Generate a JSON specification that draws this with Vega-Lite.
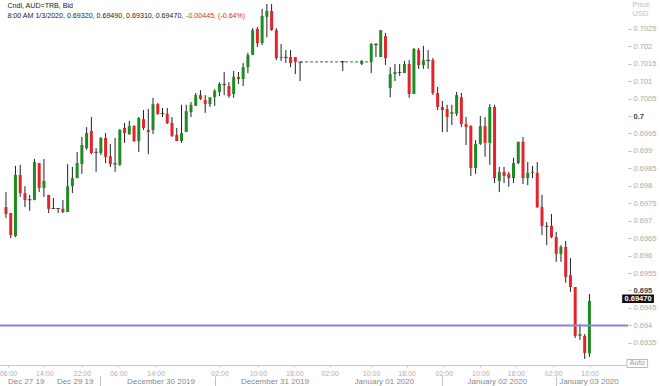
{
"$schema": "https://vega.github.io/schema/vega-lite/v6.json",
"width": 628, "height": 365,
"autosize": {"type": "none"},
"padding": {"left": 0, "top": 0, "right": 32, "bottom": 21},
"background": "white",
"config": {"view": {"stroke": null}, "font": "Liberation Sans"},
"resolve": {"axis": {"x": "independent", "y": "independent"}},
"datasets": {
"candles": [
{"j":0,"o":0.69739,"h":0.69782,"l":0.69708,"c":0.69719},
{"j":1,"o":0.69722,"h":0.69722,"l":0.69650,"c":0.69659},
{"j":2,"o":0.69656,"h":0.69857,"l":0.69653,"c":0.69831},
{"j":3,"o":0.69831,"h":0.69860,"l":0.69768,"c":0.69779},
{"j":4,"o":0.69779,"h":0.69799,"l":0.69739,"c":0.69759},
{"j":5,"o":0.69760,"h":0.69774,"l":0.69728,"c":0.69760},
{"j":6,"o":0.69759,"h":0.69877,"l":0.69759,"c":0.69868},
{"j":7,"o":0.69865,"h":0.69865,"l":0.69782,"c":0.69794},
{"j":8,"o":0.69794,"h":0.69877,"l":0.69768,"c":0.69814},
{"j":9,"o":0.69774,"h":0.69774,"l":0.69722,"c":0.69734},
{"j":10,"o":0.69735,"h":0.69765,"l":0.69734,"c":0.69735},
{"j":11,"o":0.69735,"h":0.69735,"l":0.69722,"c":0.69735},
{"j":12,"o":0.69734,"h":0.69759,"l":0.69722,"c":0.69725},
{"j":13,"o":0.69725,"h":0.69862,"l":0.69725,"c":0.69799},
{"j":14,"o":0.69799,"h":0.69854,"l":0.69779,"c":0.69822},
{"j":15,"o":0.69822,"h":0.69897,"l":0.69822,"c":0.69865},
{"j":16,"o":0.69862,"h":0.69940,"l":0.69834,"c":0.69917},
{"j":17,"o":0.69908,"h":0.69968,"l":0.69903,"c":0.69951},
{"j":18,"o":0.69957,"h":0.69997,"l":0.69891,"c":0.69894},
{"j":19,"o":0.69896,"h":0.69908,"l":0.69840,"c":0.69896},
{"j":20,"o":0.69894,"h":0.69940,"l":0.69888,"c":0.69937},
{"j":21,"o":0.69937,"h":0.69951,"l":0.69865,"c":0.69883},
{"j":22,"o":0.69885,"h":0.69920,"l":0.69854,"c":0.69862},
{"j":23,"o":0.69863,"h":0.69937,"l":0.69840,"c":0.69863},
{"j":24,"o":0.69860,"h":0.69963,"l":0.69857,"c":0.69960},
{"j":25,"o":0.69966,"h":0.69980,"l":0.69923,"c":0.69951},
{"j":26,"o":0.69948,"h":0.69986,"l":0.69946,"c":0.69971},
{"j":27,"o":0.69971,"h":0.69974,"l":0.69926,"c":0.69928},
{"j":28,"o":0.69928,"h":0.69997,"l":0.69897,"c":0.69994},
{"j":29,"o":0.69991,"h":0.70017,"l":0.69960,"c":0.69966},
{"j":30,"o":0.69960,"h":0.70020,"l":0.69891,"c":0.69954},
{"j":31,"o":0.69960,"h":0.70052,"l":0.69948,"c":0.70034},
{"j":32,"o":0.70034,"h":0.70037,"l":0.70003,"c":0.70006},
{"j":33,"o":0.70007,"h":0.70023,"l":0.69997,"c":0.70007},
{"j":34,"o":0.70006,"h":0.70023,"l":0.69977,"c":0.69980},
{"j":35,"o":0.69980,"h":0.69997,"l":0.69940,"c":0.69943},
{"j":36,"o":0.69946,"h":0.69966,"l":0.69928,"c":0.69928},
{"j":37,"o":0.69928,"h":0.70032,"l":0.69923,"c":0.69951},
{"j":38,"o":0.69954,"h":0.70032,"l":0.69954,"c":0.70014},
{"j":39,"o":0.70011,"h":0.70040,"l":0.69997,"c":0.70032},
{"j":40,"o":0.70029,"h":0.70066,"l":0.70029,"c":0.70060},
{"j":41,"o":0.70060,"h":0.70074,"l":0.70046,"c":0.70049},
{"j":42,"o":0.70046,"h":0.70060,"l":0.70009,"c":0.70034},
{"j":43,"o":0.70034,"h":0.70054,"l":0.70026,"c":0.70054},
{"j":44,"o":0.70054,"h":0.70077,"l":0.70029,"c":0.70072},
{"j":45,"o":0.70069,"h":0.70097,"l":0.70057,"c":0.70092},
{"j":46,"o":0.70090,"h":0.70126,"l":0.70060,"c":0.70090},
{"j":47,"o":0.70086,"h":0.70097,"l":0.70052,"c":0.70057},
{"j":48,"o":0.70063,"h":0.70129,"l":0.70052,"c":0.70112},
{"j":49,"o":0.70112,"h":0.70126,"l":0.70092,"c":0.70106},
{"j":50,"o":0.70106,"h":0.70152,"l":0.70086,"c":0.70140},
{"j":51,"o":0.70140,"h":0.70181,"l":0.70123,"c":0.70175},
{"j":52,"o":0.70175,"h":0.70252,"l":0.70175,"c":0.70246},
{"j":53,"o":0.70249,"h":0.70255,"l":0.70198,"c":0.70209},
{"j":54,"o":0.70209,"h":0.70307,"l":0.70203,"c":0.70287},
{"j":55,"o":0.70284,"h":0.70321,"l":0.70226,"c":0.70301},
{"j":56,"o":0.70301,"h":0.70321,"l":0.70244,"c":0.70246},
{"j":57,"o":0.70246,"h":0.70252,"l":0.70160,"c":0.70166},
{"j":58,"o":0.70166,"h":0.70206,"l":0.70158,"c":0.70169},
{"j":59,"o":0.70168,"h":0.70189,"l":0.70152,"c":0.70168},
{"j":60,"o":0.70169,"h":0.70189,"l":0.70140,"c":0.70152},
{"j":61,"o":0.70169,"h":0.70169,"l":0.70120,"c":0.70155},
{"j":62,"o":0.70154,"h":0.70154,"l":0.70100,"c":0.70154},
{"j":71,"o":0.70156,"h":0.70158,"l":0.70129,"c":0.70156},
{"j":75,"o":0.70149,"h":0.70160,"l":0.70146,"c":0.70158},
{"j":77,"o":0.70155,"h":0.70209,"l":0.70123,"c":0.70206},
{"j":78,"o":0.70205,"h":0.70209,"l":0.70169,"c":0.70205},
{"j":79,"o":0.70169,"h":0.70246,"l":0.70169,"c":0.70246},
{"j":80,"o":0.70229,"h":0.70238,"l":0.70146,"c":0.70166},
{"j":81,"o":0.70080,"h":0.70140,"l":0.70054,"c":0.70120},
{"j":82,"o":0.70120,"h":0.70149,"l":0.70100,"c":0.70126},
{"j":83,"o":0.70125,"h":0.70149,"l":0.70115,"c":0.70125},
{"j":84,"o":0.70123,"h":0.70158,"l":0.70123,"c":0.70149},
{"j":85,"o":0.70149,"h":0.70160,"l":0.70052,"c":0.70063},
{"j":86,"o":0.70063,"h":0.70195,"l":0.70063,"c":0.70192},
{"j":87,"o":0.70189,"h":0.70195,"l":0.70135,"c":0.70146},
{"j":88,"o":0.70146,"h":0.70201,"l":0.70135,"c":0.70160},
{"j":89,"o":0.70159,"h":0.70189,"l":0.70135,"c":0.70159},
{"j":90,"o":0.70160,"h":0.70166,"l":0.70060,"c":0.70066},
{"j":91,"o":0.70066,"h":0.70083,"l":0.70017,"c":0.70026},
{"j":92,"o":0.70026,"h":0.70043,"l":0.69954,"c":0.70017},
{"j":93,"o":0.70020,"h":0.70032,"l":0.69954,"c":0.69997},
{"j":94,"o":0.70006,"h":0.70032,"l":0.69974,"c":0.70011},
{"j":95,"o":0.70006,"h":0.70069,"l":0.70000,"c":0.70060},
{"j":96,"o":0.70054,"h":0.70066,"l":0.69968,"c":0.69977},
{"j":97,"o":0.69977,"h":0.69997,"l":0.69917,"c":0.69968},
{"j":98,"o":0.69971,"h":0.69974,"l":0.69828,"c":0.69851},
{"j":99,"o":0.69851,"h":0.69931,"l":0.69834,"c":0.69920},
{"j":100,"o":0.69920,"h":0.70000,"l":0.69917,"c":0.69971},
{"j":101,"o":0.69971,"h":0.69997,"l":0.69883,"c":0.69923},
{"j":102,"o":0.69923,"h":0.70034,"l":0.69860,"c":0.70026},
{"j":103,"o":0.70026,"h":0.70032,"l":0.69808,"c":0.69822},
{"j":104,"o":0.69814,"h":0.69854,"l":0.69782,"c":0.69840},
{"j":105,"o":0.69840,"h":0.69854,"l":0.69808,"c":0.69828},
{"j":106,"o":0.69834,"h":0.69840,"l":0.69797,"c":0.69822},
{"j":107,"o":0.69822,"h":0.69880,"l":0.69808,"c":0.69865},
{"j":108,"o":0.69865,"h":0.69926,"l":0.69862,"c":0.69926},
{"j":109,"o":0.69926,"h":0.69940,"l":0.69805,"c":0.69822},
{"j":110,"o":0.69822,"h":0.69868,"l":0.69802,"c":0.69837},
{"j":111,"o":0.69837,"h":0.69857,"l":0.69822,"c":0.69840},
{"j":112,"o":0.69837,"h":0.69868,"l":0.69736,"c":0.69739},
{"j":113,"o":0.69739,"h":0.69774,"l":0.69659,"c":0.69685},
{"j":114,"o":0.69684,"h":0.69696,"l":0.69630,"c":0.69684},
{"j":115,"o":0.69685,"h":0.69719,"l":0.69650,"c":0.69653},
{"j":116,"o":0.69653,"h":0.69668,"l":0.69582,"c":0.69605},
{"j":117,"o":0.69605,"h":0.69630,"l":0.69582,"c":0.69625},
{"j":118,"o":0.69625,"h":0.69642,"l":0.69522,"c":0.69539},
{"j":119,"o":0.69544,"h":0.69593,"l":0.69496,"c":0.69510},
{"j":120,"o":0.69510,"h":0.69510,"l":0.69364,"c":0.69370},
{"j":121,"o":0.69370,"h":0.69404,"l":0.69358,"c":0.69375},
{"j":122,"o":0.69370,"h":0.69375,"l":0.69304,"c":0.69321},
{"j":123,"o":0.69320,"h":0.69490,"l":0.69310,"c":0.69470}
],
"gap": [{"from": 62, "to": 77, "p": 0.70155}],
"ref": [{"p": 0.694}],
"header": [
{"j": 0.3, "p": 0.70315, "t": "Cndl, AUD=TRB, Bid", "k": "info"},
{"j": 0.3, "p": 0.70287, "t": "8:00 AM 1/3/2020, 0.69320, 0.69490, 0.69310, 0.69470,", "k": "info"},
{"j": 37.97, "p": 0.70287, "t": "-0.00445, (-0.64%)", "k": "change"}
],
"badge": [{"a": 129.9, "b": 136.6, "lo": 0.694642, "hi": 0.694885, "mid": 0.694765, "jm": 133.25, "t": "0.69470"}],
"autobtn": [{"a": 130.9, "b": 135.27, "lo": 0.692794, "hi": 0.693023, "mid": 0.692908, "jm": 133.1, "t": "Auto"}]
},
"layer": [
{"data": {"name": "gap"},
 "mark": {"type": "rule", "strokeDash": [3, 2], "color": "#555555", "strokeWidth": 1},
 "encoding": {
  "x": {"field": "from", "type": "quantitative", "scale": {"domain": [-0.207, 130.08], "nice": false, "zero": false}, "axis": null},
  "x2": {"field": "to"},
  "y": {"field": "p", "type": "quantitative", "scale": {"domain": [0.692865, 0.703324], "nice": false, "zero": false}, "axis": null}}},
{"data": {"name": "candles"},
 "mark": {"type": "rule", "color": "#222222", "strokeWidth": 1},
 "encoding": {
  "x": {"field": "j", "type": "quantitative", "scale": {"domain": [-0.207, 130.08], "nice": false, "zero": false},
   "axis": {"orient": "bottom", "title": null, "grid": false, "values": [0.41, 8.09, 15.98, 23.65, 31.54, 45.02, 53.11, 60.79, 68.26, 76.97, 84.44, 92.32, 100.0, 107.47, 115.35, 123.03],
    "labelExpr": "datum.value < 4 ? '06:00' : datum.value < 12 ? '14:00' : datum.value < 20 ? '22:00' : datum.value < 28 ? '06:00' : datum.value < 38 ? '14:00' : datum.value < 49 ? '02:00' : datum.value < 57 ? '10:00' : datum.value < 64 ? '18:00' : datum.value < 72 ? '02:00' : datum.value < 80 ? '10:00' : datum.value < 88 ? '18:00' : datum.value < 96 ? '02:00' : datum.value < 104 ? '10:00' : datum.value < 111 ? '18:00' : datum.value < 119 ? '02:00' : '10:00'",
    "domainColor": "#c8c8c8", "tickColor": "#c8c8c8", "tickSize": 2, "labelPadding": 2, "labelFontSize": 7, "labelColor": "#b0b0b0", "labelFont": "Liberation Sans", "labelFlush": false, "labelOverlap": false}},
  "y": {"field": "l", "type": "quantitative", "scale": {"domain": [0.692865, 0.703324], "nice": false, "zero": false},
   "axis": {"orient": "right", "grid": false, "domain": false, "format": "~f",
    "values": [0.6935, 0.694, 0.6945, 0.695, 0.6955, 0.696, 0.6965, 0.697, 0.6975, 0.698, 0.6985, 0.699, 0.6995, 0.7, 0.7005, 0.701, 0.7015, 0.702, 0.7025],
    "tickSize": 3, "tickColor": "#bbbbbb", "labelPadding": 2, "labelFontSize": 7.5, "labelFont": "Liberation Sans", "labelFlush": false, "labelOverlap": false,
    "labelColor": {"condition": {"test": "abs(datum.value - 0.7) < 1e-7 || abs(datum.value - 0.695) < 1e-7", "value": "#444444"}, "value": "#aaaaaa"},
    "labelFontWeight": {"condition": {"test": "abs(datum.value - 0.7) < 1e-7 || abs(datum.value - 0.695) < 1e-7", "value": "bold"}, "value": "normal"},
    "title": ["Price", "USD"], "titleAngle": 0, "titleAlign": "left", "titleBaseline": "top", "titleX": 4, "titleY": 0, "titleFontSize": 7.5, "titleFontWeight": "normal", "titleColor": "#c0c0c0", "titleFont": "Liberation Sans"}},
  "y2": {"field": "h"}}},
{"data": {"name": "candles"},
 "transform": [{"filter": "datum.o != datum.c"}],
 "mark": {"type": "bar", "size": 3},
 "encoding": {
  "x": {"field": "j", "type": "quantitative", "scale": {"domain": [-0.207, 130.08], "nice": false, "zero": false},
   "axis": {"orient": "bottom", "title": null, "grid": false, "ticks": false, "domain": false, "offset": 11,
    "values": [4.15, 14.5, 32.57, 56.6, 79.67, 103.5, 122.8],
    "labelExpr": "datum.value < 8 ? 'Dec 27 19' : datum.value < 20 ? 'Dec 29 19' : datum.value < 44 ? 'December 30 2019' : datum.value < 68 ? 'December 31 2019' : datum.value < 92 ? 'January 01 2020' : datum.value < 116 ? 'January 02 2020' : 'January 03 2020'",
    "labelPadding": 1, "labelFontSize": 8, "labelColor": "#888888", "labelFont": "Liberation Sans", "labelFlush": false, "labelOverlap": false}},
  "y": {"field": "o", "type": "quantitative", "scale": {"domain": [0.692865, 0.703324], "nice": false, "zero": false}, "axis": null},
  "y2": {"field": "c"},
  "color": {"condition": {"test": "datum.c > datum.o", "value": "#1f8b24"}, "value": "#e3242b"}}},
{"data": {"name": "candles"},
 "transform": [{"filter": "datum.o == datum.c"}],
 "mark": {"type": "tick", "orient": "horizontal", "size": 4, "thickness": 1, "color": "#222222"},
 "encoding": {
  "x": {"field": "j", "type": "quantitative", "scale": {"domain": [-0.207, 130.08], "nice": false, "zero": false},
   "axis": {"orient": "bottom", "title": null, "grid": false, "labels": false, "domain": false, "offset": 11, "tickSize": 10, "tickColor": "#c0c0c0",
    "values": [19.9, 44, 92, 115.9]}},
  "y": {"field": "o", "type": "quantitative", "scale": {"domain": [0.692865, 0.703324], "nice": false, "zero": false}, "axis": null}}},
{"data": {"name": "ref"},
 "mark": {"type": "rule", "color": "#8585e0", "strokeWidth": 2},
 "encoding": {
  "y": {"field": "p", "type": "quantitative", "scale": {"domain": [0.692865, 0.703324], "nice": false, "zero": false}, "axis": null}}},
{"data": {"name": "header"},
 "mark": {"type": "text", "align": "left", "baseline": "middle", "fontSize": 7.1, "font": "Liberation Sans"},
 "encoding": {
  "x": {"field": "j", "type": "quantitative", "scale": {"domain": [-0.207, 130.08], "nice": false, "zero": false}, "axis": null},
  "y": {"field": "p", "type": "quantitative", "scale": {"domain": [0.692865, 0.703324], "nice": false, "zero": false}, "axis": null},
  "text": {"field": "t"},
  "color": {"field": "k", "type": "nominal", "scale": {"domain": ["info", "change"], "range": ["#222222", "#e3242b"]}, "legend": null}}},
{"data": {"name": "badge"},
 "mark": {"type": "rect", "color": "#111111"},
 "encoding": {
  "x": {"field": "a", "type": "quantitative", "scale": {"domain": [-0.207, 130.08], "nice": false, "zero": false}, "axis": null},
  "x2": {"field": "b"},
  "y": {"field": "lo", "type": "quantitative", "scale": {"domain": [0.692865, 0.703324], "nice": false, "zero": false}, "axis": null},
  "y2": {"field": "hi"}}},
{"data": {"name": "badge"},
 "mark": {"type": "text", "align": "center", "baseline": "middle", "fontSize": 7.5, "fontWeight": "bold", "color": "white", "font": "Liberation Sans"},
 "encoding": {
  "x": {"field": "jm", "type": "quantitative", "scale": {"domain": [-0.207, 130.08], "nice": false, "zero": false}, "axis": null},
  "y": {"field": "mid", "type": "quantitative", "scale": {"domain": [0.692865, 0.703324], "nice": false, "zero": false}, "axis": null},
  "text": {"field": "t"}}},
{"data": {"name": "autobtn"},
 "mark": {"type": "rect", "fill": "white", "stroke": "#bbbbbb", "strokeWidth": 1},
 "encoding": {
  "x": {"field": "a", "type": "quantitative", "scale": {"domain": [-0.207, 130.08], "nice": false, "zero": false}, "axis": null},
  "x2": {"field": "b"},
  "y": {"field": "lo", "type": "quantitative", "scale": {"domain": [0.692865, 0.703324], "nice": false, "zero": false}, "axis": null},
  "y2": {"field": "hi"}}},
{"data": {"name": "autobtn"},
 "mark": {"type": "text", "align": "center", "baseline": "middle", "fontSize": 7.5, "color": "#999999", "font": "Liberation Sans"},
 "encoding": {
  "x": {"field": "jm", "type": "quantitative", "scale": {"domain": [-0.207, 130.08], "nice": false, "zero": false}, "axis": null},
  "y": {"field": "mid", "type": "quantitative", "scale": {"domain": [0.692865, 0.703324], "nice": false, "zero": false}, "axis": null},
  "text": {"field": "t"}}}
]
}
